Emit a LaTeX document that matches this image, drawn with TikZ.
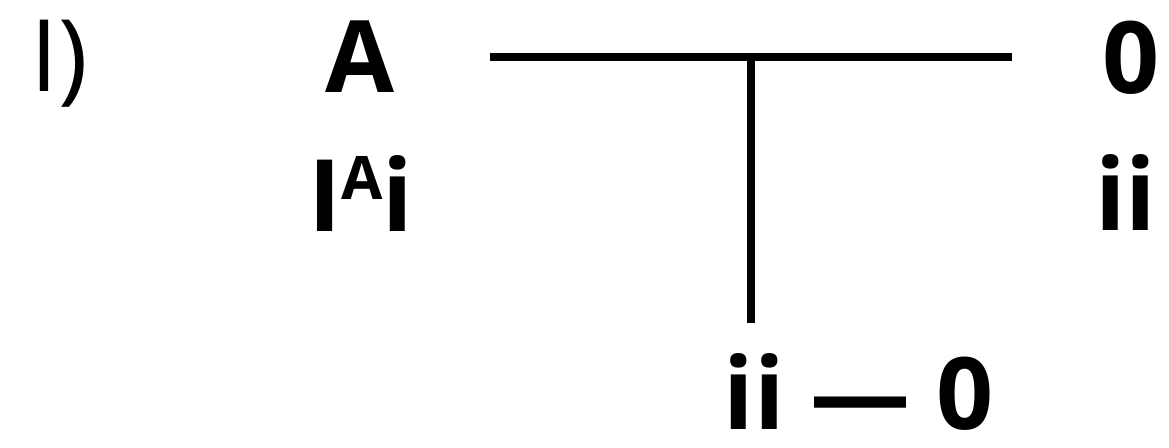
\documentclass[tikz,border=0pt]{standalone}
\usepackage{fontspec}
\setmainfont{Open Sans}
\begin{document}
\begin{tikzpicture}[x=1pt,y=-1pt,
  big/.style={inner sep=0pt,anchor=base,font=\fontsize{100}{100}\selectfont\bfseries},
  reg/.style={inner sep=0pt,anchor=base,font=\fontsize{100}{100}\selectfont},
  bar/.style={line width=8pt}]
\useasboundingbox (0,0) rectangle (1169,447);
\node[reg] (lab) at (59,91) {I)};
\node[big] (a) at (360,92) {A};
\node[big] (aexp) at (361,231) {I\raisebox{32pt}{\fontsize{60}{60}\selectfont A}i};
\node[big] (zero) at (1131,93) {0};
\node[big] (zeroii) at (1126,230) {ii};
\node[big] (bottom) at (859,429) {\raisebox{0pt}[\height][0pt]{ii — 0}};
\coordinate (hl) at (490,57);
\coordinate (hr) at (1012,57);
\coordinate (vt) at (750.5,57);
\coordinate (vb) at (750.5,323);
\draw[bar] (hl) -- (hr);
\draw[bar] (vt) -- (vb);
\end{tikzpicture}
\end{document}
